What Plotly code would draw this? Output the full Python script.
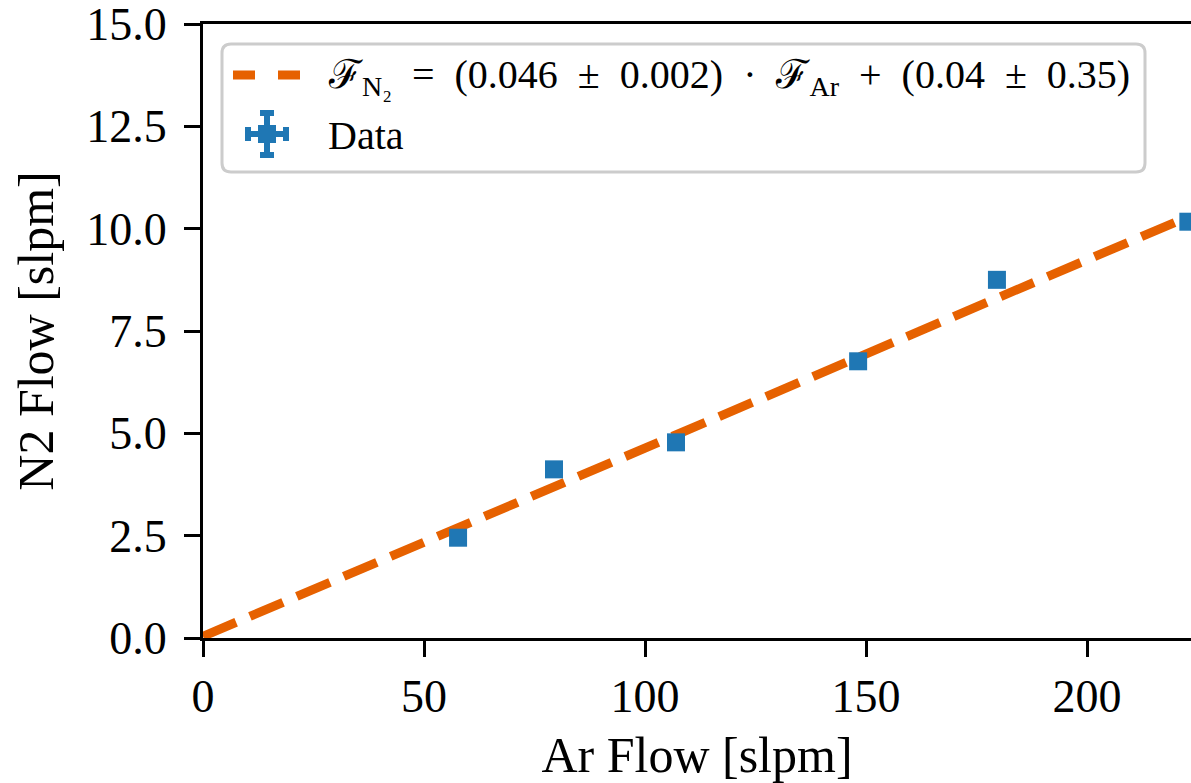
import plotly.graph_objects as go

# Data
ar_flow = [57.7, 79.4, 107.0, 148.2, 179.6, 222.9]
n2_flow = [2.45, 4.12, 4.78, 6.76, 8.75, 10.17]
ar_err = [1.5, 1.5, 1.5, 1.5, 1.5, 1.5]
n2_err = [0.12, 0.12, 0.12, 0.12, 0.12, 0.12]

slope = 0.046
intercept = 0.04
fit_x = [0.0, 222.9]
fit_y = [slope * v + intercept for v in fit_x]

x_ticks = [0, 50, 100, 150, 200]
y_ticks = [0.0, 2.5, 5.0, 7.5, 10.0, 12.5, 15.0]

BLUE = "#1f77b4"
ORANGE = "#e66100"
FONT = "Liberation Serif"
SP = "\u2002"  # en space for math-like spacing

fit_label = (f"ℱ<sub>N₂</sub>{SP}={SP}(0.046{SP}±{SP}0.002){SP}·{SP}"
             f"ℱ<sub>Ar</sub>{SP}+{SP}(0.04{SP}±{SP}0.35)")
data_label = "Data"

fig = go.Figure()
fig.add_trace(go.Scatter(
    x=fit_x, y=fit_y, mode="lines",
    line=dict(color=ORANGE, width=9, dash="36px,15px"),
    name=fit_label, showlegend=False,
))
fig.add_trace(go.Scatter(
    x=ar_flow, y=n2_flow, mode="markers",
    marker=dict(color=BLUE, size=18, symbol="square"),
    error_x=dict(type="data", array=ar_err, color=BLUE, thickness=3, width=7),
    error_y=dict(type="data", array=n2_err, color=BLUE, thickness=3, width=7),
    name=data_label, showlegend=False,
))

# body margin is removed in the page (post_script), so no offset needed
W, H = 1191, 783
L, T, B, R = 203, 24, 145, 0
pw, ph = W - L - R, H - T - B

def px(xp):
    return (xp - L) / pw
def py(yp):
    return 1 - (yp - T) / ph

# ---- legend (drawn by hand so its glyphs match) ----
bx0, bx1 = 222, 1145
by0, by1 = 44, 172
r = 9
rx, ry = r / pw, r / ph
x0, x1, y0, y1 = px(bx0), px(bx1), py(by1), py(by0)
path = (f"M {x0+rx},{y0} L {x1-rx},{y0} Q {x1},{y0} {x1},{y0+ry} "
        f"L {x1},{y1-ry} Q {x1},{y1} {x1-rx},{y1} L {x0+rx},{y1} "
        f"Q {x0},{y1} {x0},{y1-ry} L {x0},{y0+ry} Q {x0},{y0} {x0+rx},{y0} Z")
fig.add_shape(type="path", path=path, xref="paper", yref="paper",
              line=dict(color="#cccccc", width=3),
              fillcolor="rgba(255,255,255,0.8)", layer="above")

row1_y, row2_y = 75, 134
# dashed line sample
fig.add_shape(type="line", xref="paper", yref="paper",
              x0=px(233), x1=px(300), y0=py(row1_y), y1=py(row1_y),
              line=dict(color=ORANGE, width=9, dash="22px,23px"), layer="above")
# error-bar cross sample
cx, cy = 267, row2_y
arm_x, arm_y, cap = 19, 21, 7
for (xa, ya, xb, yb) in [
    (cx - arm_x, cy, cx + arm_x, cy),
    (cx, cy - arm_y, cx, cy + arm_y),
    (cx - arm_x, cy - cap, cx - arm_x, cy + cap),
    (cx + arm_x, cy - cap, cx + arm_x, cy + cap),
    (cx - cap, cy - arm_y, cx + cap, cy - arm_y),
    (cx - cap, cy + arm_y, cx + cap, cy + arm_y),
]:
    fig.add_shape(type="line", xref="paper", yref="paper",
                  x0=px(xa), x1=px(xb), y0=py(ya), y1=py(yb),
                  line=dict(color=BLUE, width=6), layer="above")
fig.add_shape(type="rect", xref="paper", yref="paper",
              x0=px(cx - 9), x1=px(cx + 9), y0=py(cy + 9), y1=py(cy - 9),
              line=dict(width=0), fillcolor=BLUE, layer="above")

fig.add_annotation(text=fit_label, xref="paper", yref="paper",
                   x=px(326), y=py(row1_y + 2), xanchor="left", yanchor="middle",
                   showarrow=False, font=dict(family=FONT, size=40, color="black"))
fig.add_annotation(text=data_label, xref="paper", yref="paper",
                   x=px(326), y=py(row2_y + 1), xanchor="left", yanchor="middle",
                   showarrow=False, font=dict(family=FONT, size=40, color="black"))

fig.update_layout(
    width=W, height=H,
    margin=dict(l=L, r=R, t=T, b=B, autoexpand=False),
    paper_bgcolor="white", plot_bgcolor="white",
    font=dict(family=FONT, color="black", size=46),
    showlegend=False,
    xaxis=dict(
        range=[0, 223.5], tickvals=x_ticks, ticktext=[str(v) for v in x_ticks],
        showgrid=False, zeroline=False, automargin=False,
        showline=True, linecolor="black", linewidth=3, mirror=True,
        ticks="outside", ticklen=16, tickwidth=3, tickcolor="black",
        ticklabeloverflow="allow",
        tickfont=dict(family=FONT, size=46),
        title=dict(text="Ar Flow [slpm]", font=dict(family=FONT, size=50), standoff=16),
    ),
    yaxis=dict(
        range=[0, 15], tickvals=y_ticks, ticktext=[f"{v:.1f}" for v in y_ticks],
        showgrid=False, zeroline=False, automargin=False,
        showline=True, linecolor="black", linewidth=3, mirror=False,
        ticks="outside", ticklen=16, tickwidth=3, tickcolor="black",
        ticklabelstandoff=8, ticklabeloverflow="allow",
        tickfont=dict(family=FONT, size=46),
        title=dict(text="N2 Flow [slpm]", font=dict(family=FONT, size=50), standoff=17),
    ),
)

fig.write_html(
    "out.html",
    config={"displayModeBar": False},
    post_script="document.body.style.margin='0px';document.body.style.overflow='hidden';",
)
